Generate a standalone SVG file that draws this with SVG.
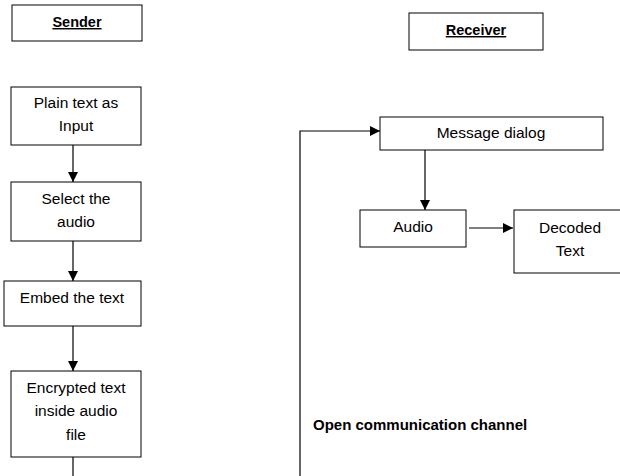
<svg xmlns="http://www.w3.org/2000/svg" width="620" height="476" viewBox="0 0 620 476">
<defs>
<style>
.box{fill:#fff;stroke:#000;stroke-width:1}
.t{font-family:"Liberation Sans",Arial,sans-serif;font-size:15.5px;fill:#000;text-anchor:middle}
.h{font-family:"Liberation Sans",Arial,sans-serif;font-size:14.5px;font-weight:bold;fill:#000;text-anchor:middle;text-decoration:underline}
.c{fill:none;stroke:#000;stroke-width:1.2}
</style>
<marker id="ah" viewBox="0 0 10 10" refX="10" refY="5" markerWidth="10" markerHeight="10" markerUnits="userSpaceOnUse" orient="auto">
<path d="M0,0 L10,5 L0,10 z" fill="#000"/>
</marker>
</defs>
<rect width="620" height="476" fill="#fff"/>
<g id="connectors">
<line class="c" x1="73" y1="145" x2="73" y2="182" marker-end="url(#ah)"/>
<line class="c" x1="73" y1="241" x2="73" y2="281" marker-end="url(#ah)"/>
<line class="c" x1="73" y1="326" x2="73" y2="371" marker-end="url(#ah)"/>
<line class="c" x1="73" y1="457" x2="73" y2="476"/>
<polyline class="c" points="300,476 300,131 380,131" marker-end="url(#ah)"/>
<line class="c" x1="425" y1="150" x2="425" y2="210" marker-end="url(#ah)"/>
<line class="c" x1="469" y1="228" x2="513" y2="228" marker-end="url(#ah)"/>
</g>
<g id="sender">
<rect class="box" x="12" y="5" width="130" height="36"/>
<text class="h" x="77" y="27">Sender</text>
</g>
<g id="plain">
<rect class="box" x="11" y="87" width="130" height="58"/>
<text class="t" x="76" y="108">Plain text as</text>
<text class="t" x="76" y="131">Input</text>
</g>
<g id="select">
<rect class="box" x="11" y="182" width="130" height="59"/>
<text class="t" x="76" y="204">Select the</text>
<text class="t" x="76" y="227">audio</text>
</g>
<g id="embed">
<rect class="box" x="4" y="281" width="137" height="45"/>
<text class="t" x="72" y="303">Embed the text</text>
</g>
<g id="encrypted">
<rect class="box" x="11" y="371" width="130" height="86"/>
<text class="t" x="76" y="393">Encrypted text</text>
<text class="t" x="76" y="416">inside audio</text>
<text class="t" x="76" y="440">file</text>
</g>
<g id="receiver">
<rect class="box" x="409" y="13" width="134" height="37"/>
<text class="h" x="476" y="35">Receiver</text>
</g>
<g id="message">
<rect class="box" x="380" y="117" width="223" height="33"/>
<text class="t" x="491" y="138">Message dialog</text>
</g>
<g id="audio">
<rect class="box" x="360" y="210" width="106" height="37"/>
<text class="t" x="413" y="232">Audio</text>
</g>
<g id="decoded">
<rect class="box" x="514" y="210" width="112" height="63"/>
<text class="t" x="570" y="233">Decoded</text>
<text class="t" x="570" y="256">Text</text>
</g>
<g id="channel">
<text x="313" y="430" style="font-family:'Liberation Sans',Arial,sans-serif;font-size:15px;font-weight:bold;fill:#000">Open communication channel</text>
</g>
</svg>
